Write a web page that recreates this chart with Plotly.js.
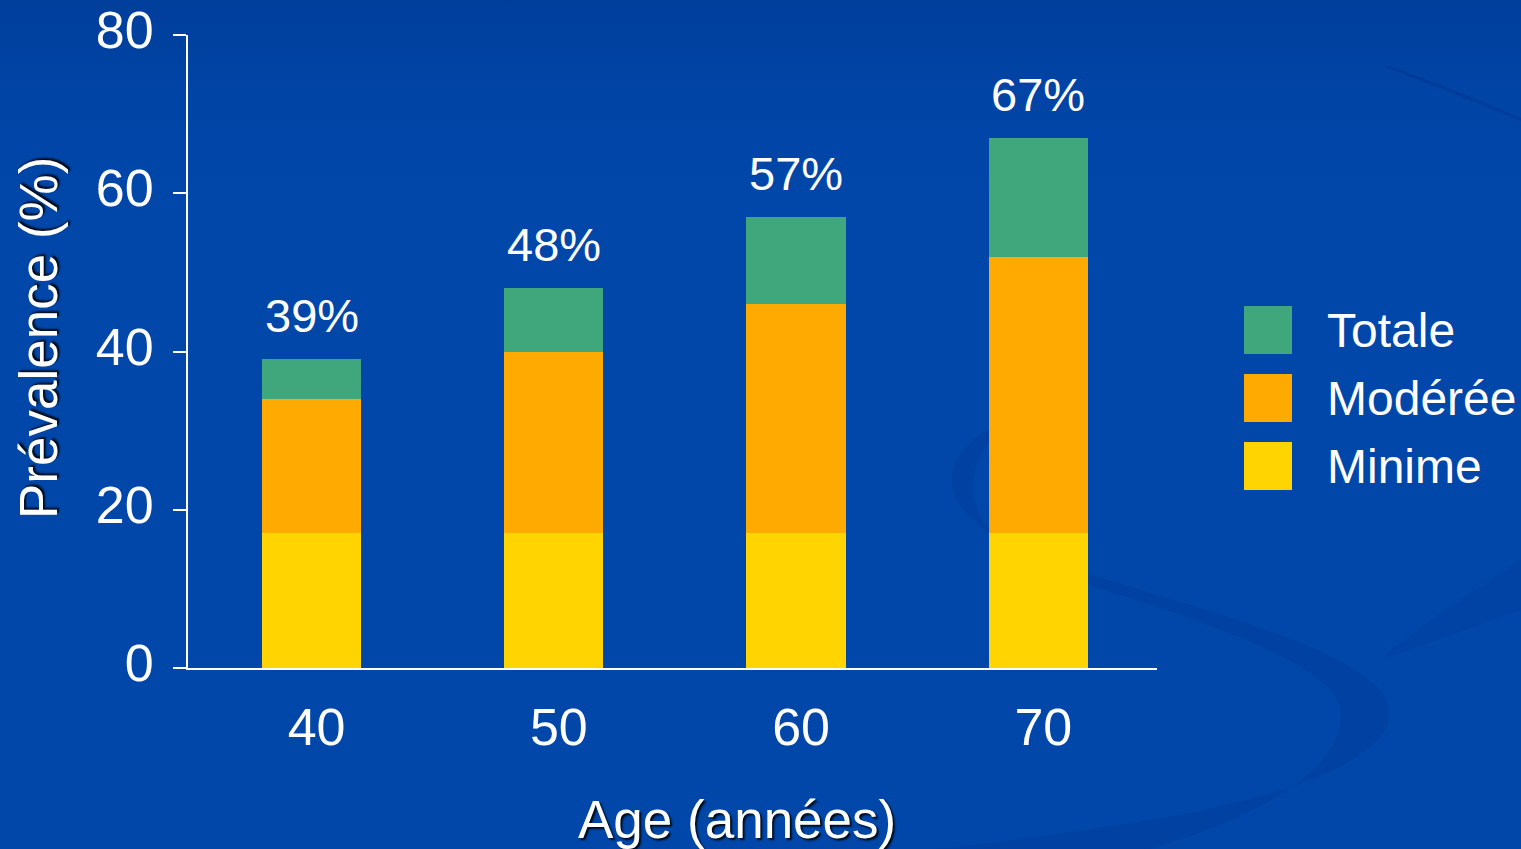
<!DOCTYPE html>
<html>
<head>
<meta charset="utf-8">
<script src="https://cdn.plot.ly/plotly-3.0.1.min.js"></script>
<style>
  html, body { margin: 0; padding: 0; width: 1521px; height: 849px; overflow: hidden; }
  body { background: linear-gradient(180deg, #003e9b 0px, #0044a5 90px, #0047a9 200px, #0047a9 100%); }
  #chart { width: 1521px; height: 849px; }
</style>
</head>
<body>
<div id="chart"></div>
<script>
// Prévalence par tranche d'âge, empilée par sévérité
const ages = ['40', '50', '60', '70'];
const minime = [17, 17, 17, 17];
const moderee = [17, 23, 29, 35];
const totale = [5, 8, 11, 15];

const seriesNames = ['Minime', 'Modérée', 'Totale'];
const seriesValues = [minime, moderee, totale];
const seriesColors = ['#ffd400', '#ffaa00', '#3fa77b'];

const yTicks = [0, 20, 40, 60, 80];
const xTitle = 'Age (années)';
const yTitle = 'Prévalence (%)';

// Plot area in pixels
const W = 1521, H = 849;
const L = 188, R = 1157, T = 35, B = 668;
const px = x => (x - L) / (R - L);
const py = y => (B - y) / (B - T);

const FONT = 'Liberation Sans, Arial, sans-serif';
const SHADOW = '2px 2px 2px rgba(0,0,0,0.85)';

const traces = seriesNames.map((name, i) => ({
  type: 'bar',
  name: name,
  x: ages,
  y: seriesValues[i],
  marker: { color: seriesColors[i], line: { width: 0 } },
  hoverinfo: 'skip',
  showlegend: false
}));

const totals = ages.map((_, j) => seriesValues.reduce((s, v) => s + v[j], 0));

const annotations = [];
// Total percentage above each stack (category index on x)
ages.forEach((a, j) => {
  annotations.push({
    x: j, y: totals[j], xref: 'x', yref: 'y',
    text: totals[j] + '%', showarrow: false,
    yanchor: 'bottom', yshift: 15,
    font: { family: FONT, size: 47, color: '#ffffff' }
  });
});

// Axis titles
annotations.push({
  xref: 'paper', yref: 'paper', x: px(737), y: py(819),
  xanchor: 'center', yanchor: 'middle', showarrow: false,
  text: xTitle,
  font: { family: FONT, size: 53, color: '#ffffff', shadow: SHADOW }
});
annotations.push({
  xref: 'paper', yref: 'paper', x: px(39), y: py(338),
  xanchor: 'center', yanchor: 'middle', showarrow: false, textangle: -90,
  text: yTitle,
  font: { family: FONT, size: 53, color: '#ffffff', shadow: SHADOW }
});

// Legend drawn as squares + labels (top entry = last series)
const shapes = [];
const legendOrder = seriesNames.map((_, i) => i).reverse();
legendOrder.forEach((si, k) => {
  const top = 306 + k * 68;
  shapes.push({
    type: 'rect', xref: 'paper', yref: 'paper', layer: 'above',
    x0: px(1244), x1: px(1292), y0: py(top + 48), y1: py(top),
    fillcolor: seriesColors[si], line: { width: 0 }
  });
  annotations.push({
    xref: 'paper', yref: 'paper', x: px(1325), y: py(top + 24),
    xanchor: 'left', yanchor: 'middle', showarrow: false,
    text: seriesNames[si],
    font: { family: FONT, size: 48, color: '#ffffff' }
  });
});

// Decorative swooshes in the background
function curve(cmd) {
  return cmd.map(c => {
    if (c[0] === 'M' || c[0] === 'L') return c[0] + px(c[1]) + ',' + py(c[2]);
    if (c[0] === 'C') return 'C' + px(c[1]) + ',' + py(c[2]) + ' ' + px(c[3]) + ',' + py(c[4]) + ' ' + px(c[5]) + ',' + py(c[6]);
    if (c[0] === 'Z') return 'Z';
    return '';
  }).join(' ');
}
shapes.unshift({
  type: 'path', xref: 'paper', yref: 'paper', layer: 'below',
  path: curve([
    ['M', 1010, 420],
    ['C', 930, 450, 920, 520, 1060, 565],
    ['C', 1200, 610, 1330, 640, 1380, 690],
    ['C', 1420, 740, 1330, 790, 1150, 820],
    ['C', 1050, 835, 960, 849, 930, 849],
    ['L', 1150, 849],
    ['C', 1280, 810, 1350, 760, 1340, 705],
    ['C', 1320, 655, 1180, 615, 1060, 575],
    ['C', 960, 540, 950, 470, 1010, 420],
    ['Z']
  ]),
  fillcolor: 'rgba(0,40,130,0.16)', line: { width: 0 }
});
shapes.unshift({
  type: 'path', xref: 'paper', yref: 'paper', layer: 'below',
  path: curve([
    ['M', 1521, 560],
    ['C', 1460, 600, 1400, 640, 1380, 660],
    ['C', 1440, 640, 1490, 620, 1521, 610],
    ['Z']
  ]),
  fillcolor: 'rgba(0,40,130,0.12)', line: { width: 0 }
});
shapes.unshift({
  type: 'path', xref: 'paper', yref: 'paper', layer: 'below',
  path: curve([
    ['M', 1385, 65],
    ['C', 1430, 80, 1480, 100, 1521, 118],
    ['L', 1521, 121],
    ['C', 1480, 104, 1430, 84, 1385, 67],
    ['Z']
  ]),
  fillcolor: 'rgba(0,40,130,0.3)', line: { width: 0 }
});

const layout = {
  width: W, height: H,
  paper_bgcolor: 'rgba(0,0,0,0)',
  plot_bgcolor: 'rgba(0,0,0,0)',
  margin: { l: L, r: W - R, t: T, b: H - B, pad: 0 },
  barmode: 'stack',
  bargap: 0.59,
  showlegend: false,
  font: { family: FONT, color: '#ffffff' },
  xaxis: {
    type: 'category',
    range: [-0.51, ages.length - 0.51],
    showline: true, linecolor: '#ffffff', linewidth: 2,
    ticks: '', showgrid: false, zeroline: false,
    ticklabelstandoff: 13,
    ticklabelshift: 5,
    tickfont: { family: FONT, size: 52, color: '#ffffff' },
    fixedrange: true
  },
  yaxis: {
    range: [0, 80],
    tickvals: yTicks, ticktext: yTicks.map(String),
    showline: true, linecolor: '#ffffff', linewidth: 2,
    ticks: 'outside', ticklen: 13, tickwidth: 2, tickcolor: '#ffffff',
    showgrid: false, zeroline: false,
    ticklabelstandoff: 9,
    ticklabelshift: -5,
    tickfont: { family: FONT, size: 52, color: '#ffffff' },
    fixedrange: true
  },
  shapes: shapes,
  annotations: annotations
};

Plotly.newPlot('chart', traces, layout, { displayModeBar: false, staticPlot: true });
</script>
</body>
</html>
